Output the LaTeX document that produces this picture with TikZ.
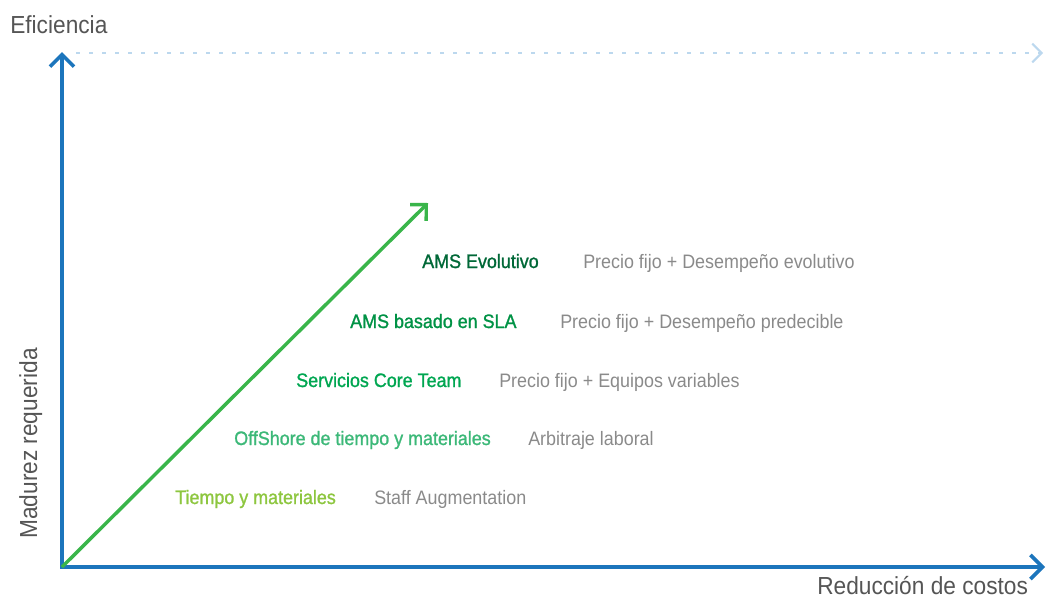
\documentclass[tikz,border=0pt]{standalone}
\usepackage{fontspec}
\setmainfont{Liberation Sans}[FakeStretch=0.92]
\newfontfamily\grfont{Liberation Sans}[FakeStretch=0.92, FakeBold=1.2]
\usetikzlibrary{arrows.meta}
\definecolor{axisblue}{HTML}{1C75BC}
\definecolor{dotblue}{HTML}{BCD8EE}
\definecolor{arrgreen}{HTML}{39B54A}
\definecolor{axgray}{HTML}{555555}
\definecolor{txtgray}{HTML}{8A8A8A}
\definecolor{gA}{HTML}{006837}
\definecolor{gB}{HTML}{009245}
\definecolor{gC}{HTML}{00A651}
\definecolor{gD}{HTML}{3CB878}
\definecolor{gE}{HTML}{8DC63F}
\tikzset{
  axis/.style={draw=axisblue, line width=2.7pt, line join=miter,
    {Straight Barb[length=9pt,width=18pt,line width=2.7pt]}-{Straight Barb[length=9pt,width=18pt,line width=2.7pt]}},
  grarrow/.style={draw=arrgreen, line width=2.6pt,
    -{Straight Barb[length=8.5pt,width=17pt,line width=2.6pt]}},
  dotline/.style={draw=dotblue, line width=1.6pt, dash pattern=on 3pt off 6.75pt,
    -{Straight Barb[length=7pt,width=14pt,line width=1.5pt]}},
  axlabel/.style={inner sep=0pt, anchor=base west, text=axgray, font=\fontsize{18.5}{22}\selectfont},
  item/.style={inner sep=0pt, anchor=base west, font=\fontsize{14.6}{17}\selectfont\grfont},
  desc/.style={inner sep=0pt, anchor=base west, text=txtgray, font=\fontsize{14.6}{17}\selectfont}
}
\begin{document}
\begin{tikzpicture}[x=0.75pt,y=-0.75pt]
\useasboundingbox (0,0) rectangle (1047,607);
\coordinate (ytip) at (62,52);
\coordinate (O) at (62,567);
\coordinate (xtip) at (1045,567);
\coordinate (dstart) at (76,53);
\coordinate (dtip) at (1043,53);
\coordinate (gtip) at (428,203);
\path[dotline] (dstart) -- (dtip);
\path[axis] (ytip) -- (O) -- (xtip);
\path[grarrow] (O) -- (gtip);
\node[axlabel] (ef) at (10,33) {Eficiencia};
\node[axlabel] (red) at (817,594) {Reducción de costos};
\node[axlabel, rotate=90] (mad) at (37,539) {Madurez requerida};
\node[item, text=gA] (i1) at (422,268) {AMS Evolutivo};
\node[desc] (d1) at (583,268) {Precio fijo + Desempeño evolutivo};
\node[item, text=gB] (i2) at (350,328) {AMS basado en SLA};
\node[desc] (d2) at (560,328) {Precio fijo + Desempeño predecible};
\node[item, text=gC] (i3) at (296,387) {Servicios Core Team};
\node[desc] (d3) at (499,387) {Precio fijo + Equipos variables};
\node[item, text=gD] (i4) at (234,445) {OffShore de tiempo y materiales};
\node[desc] (d4) at (528,445) {Arbitraje laboral};
\node[item, text=gE] (i5) at (175,504) {Tiempo y materiales};
\node[desc] (d5) at (374,504) {Staff Augmentation};
\end{tikzpicture}
\end{document}
